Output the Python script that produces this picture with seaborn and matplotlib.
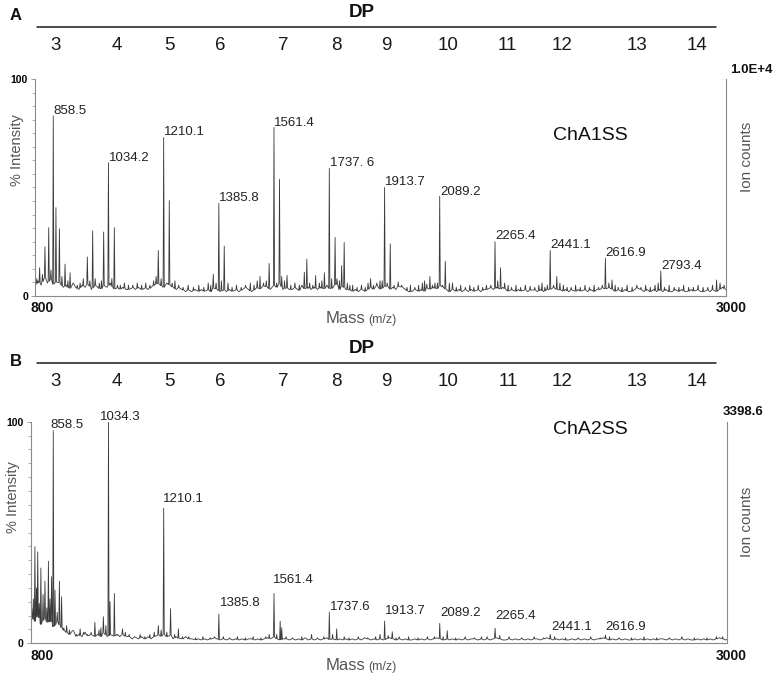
import numpy as np
import pandas as pd
import matplotlib
matplotlib.use("Agg")
import matplotlib.pyplot as plt
import matplotlib.transforms as mtrans
from matplotlib.lines import Line2D
import seaborn as sns

# ---------------- data ----------------
dp_labels = ["3", "4", "5", "6", "7", "8", "9", "10", "11", "12", "13", "14"]

# Panel A (ChA1SS) peaks: mass (m/z), % intensity
a_peak_mass = [815, 832, 844, 858.5, 867, 878, 896, 912, 954, 967, 984, 992, 1019,
               1034.2, 1053, 1193, 1210.1, 1228, 1246, 1368, 1385.8, 1403, 1517, 1546,
               1561.4, 1579, 1586, 1603, 1658, 1666, 1694, 1722, 1737.6, 1756, 1762,
               1777, 1785, 1803, 1869, 1899, 1913.7, 1931.7, 1957, 1968, 2048, 2058,
               2074, 2089.2, 2107, 2130, 2226, 2252, 2265.4, 2283, 2307, 2377, 2424,
               2441.1, 2462, 2483, 2616.9, 2638, 2658, 2717, 2793.4, 2971, 2995]
a_peak_int = [13, 22.7, 31.5, 83, 40.7, 31, 14.7, 10.7, 8, 18, 30, 8, 29.5,
              61.4, 31.5, 21, 73, 44, 7, 10, 42.7, 23, 9, 15,
              77.7, 53.8, 9, 9.5, 11, 17, 9.4, 10.7, 58.8, 27, 8,
              14, 24.7, 5, 8, 7, 50, 24, 6.5, 5, 5.5, 9,
              6, 46, 16, 6, 4, 5, 25, 13, 5, 4.5, 4,
              21, 9, 5, 17.4, 7.4, 4, 5, 11.5, 7.4, 5]
# Panel A minor (noise) peaks
a_minor_mass = [806, 824, 851, 886, 905, 922, 935, 944, 975, 1005, 1012, 1045, 1063,
                1072, 1085, 1098, 1112, 1126, 1140, 1153, 1166, 1178, 1186, 1202, 1237,
                1258, 1272, 1288, 1305, 1322, 1338, 1352, 1360, 1377, 1394, 1415, 1428,
                1442, 1457, 1471, 1486, 1498, 1508, 1528, 1537, 1570, 1595, 1615, 1628,
                1642, 1675, 1685, 1706, 1714, 1745, 1770, 1795, 1812, 1826, 1840, 1852,
                1861, 1878, 1889, 1906, 1922, 1944, 1985, 1996, 2010, 2022, 2034, 2041,
                2066, 2082, 2098, 2120, 2142, 2156, 2171, 2185, 2198, 2212, 2238, 2274,
                2296, 2318, 2332, 2347, 2362, 2392, 2405, 2415, 2432, 2452, 2472, 2495,
                2508, 2522, 2537, 2552, 2566, 2581, 2595, 2607, 2628, 2648, 2670, 2686,
                2702, 2730, 2745, 2760, 2775, 2785, 2805, 2820, 2836, 2851, 2866, 2882,
                2897, 2912, 2928, 2943, 2958, 2982]
a_minor_int = [8, 10, 12, 9, 7, 6, 5, 6, 7, 6, 7, 8, 5,
               5, 6, 5, 5, 6, 5, 6, 5, 7, 9, 8, 6,
               5, 4, 5, 4, 5, 4, 6, 5, 6, 7, 6, 4,
               5, 4, 5, 6, 5, 7, 6, 7, 6, 7, 5, 6,
               5, 6, 5, 6, 7, 8, 7, 6, 5, 4, 5, 4,
               6, 5, 6, 7, 6, 5, 4, 5, 4, 5, 6, 7,
               5, 6, 5, 6, 4, 5, 4, 5, 4, 5, 5, 7,
               6, 4, 5, 4, 5, 4, 5, 6, 5, 5, 6, 4,
               4, 5, 4, 5, 4, 5, 4, 5, 6, 5, 4, 5,
               4, 4, 5, 4, 5, 6, 4, 5, 4, 4, 5, 4,
               4, 5, 4, 4, 5, 6]
# Panel A baseline noise level, every 10 m/z from 800
a_base_start = 800
a_base = [4, 7, 5, 9, 6, 8, 5, 7, 6, 4,
          5, 3, 6, 4, 3, 5, 4, 6, 3, 5,
          4, 3, 5, 4, 6, 3, 4, 3, 4, 3,
          3, 4, 3, 4, 3, 4, 3, 4, 5, 6,
          5, 4, 6, 5, 4, 3, 4, 3, 2, 3,
          2, 3, 2, 3, 2, 3, 2, 4, 3, 2,
          3, 2, 3, 2, 3, 2, 3, 4, 3, 2,
          3, 4, 3, 5, 4, 3, 5, 4, 6, 3,
          4, 3, 3, 4, 2, 5, 3, 4, 3, 4,
          3, 4, 3, 5, 3, 4, 6, 3, 5, 3,
          3, 2, 3, 2, 3, 2, 3, 4, 3, 5,
          3, 4, 5, 3, 4, 3, 5, 4, 3, 2,
          2, 3, 2, 3, 2, 4, 3, 4, 3, 5,
          4, 3, 2, 3, 2, 3, 2, 3, 2, 3,
          2, 3, 2, 3, 3, 4, 3, 4, 3, 4,
          3, 2, 3, 2, 3, 2, 3, 2, 3, 3,
          2, 3, 2, 3, 3, 4, 3, 3, 2, 3,
          2, 3, 2, 3, 2, 3, 2, 3, 2, 3,
          3, 4, 3, 4, 3, 2, 3, 2, 3, 2,
          2, 3, 4, 3, 2, 3, 2, 3, 2, 3,
          2, 3, 2, 2, 3, 2, 3, 2, 2, 3,
          2, 3, 2, 2, 3, 2, 3, 2, 3, 4,
          3]
a_lbl_text = ["858.5", "1034.2", "1210.1", "1385.8", "1561.4", "1737. 6", "1913.7",
              "2089.2", "2265.4", "2441.1", "2616.9", "2793.4"]
a_lbl_mass = [858.5, 1034.2, 1210.1, 1385.8, 1561.4, 1737.6, 1913.7, 2089.2, 2265.4,
              2441.1, 2616.9, 2793.4]

# Panel B (ChA2SS)
b_peak_mass = [790, 800, 809, 819, 832, 843, 848, 858.5, 864, 878, 885, 901, 944, 991,
               1018, 1034.3, 1039, 1053, 1079, 1193, 1210.1, 1232, 1257, 1385.8, 1546,
               1561.4, 1581, 1586, 1681, 1737.6, 1761, 1785, 1899, 1913.7, 1938, 1960,
               2072, 2089.2, 2113, 2222, 2265.4, 2441.1, 2616.9]
b_peak_int = [15.8, 43.6, 41.3, 34, 28, 37, 20, 96, 24, 28, 21, 8, 6.5, 9.5,
              12, 100, 18.8, 22.5, 6.5, 8, 61, 15.6, 6.5, 13.2, 4,
              22.5, 10, 7, 4, 14, 6.5, 3, 4, 10, 5.2, 3,
              3, 9, 5.7, 3, 6.8, 4, 3.7]
b_minor_mass = [795, 805, 814, 826, 838, 853, 871, 892, 910, 921, 932, 955, 968, 979,
                1004, 1010, 1026, 1064, 1088, 1100, 1118, 1135, 1150, 1166, 1180, 1202,
                1220, 1245, 1270, 1290, 1312, 1335, 1358, 1372, 1400, 1420, 1445, 1470,
                1495, 1520, 1535, 1570, 1600, 1620, 1650, 1700, 1720, 1748, 1800, 1830,
                1860, 1885, 1925, 1950, 1990, 2020, 2050, 2100, 2140, 2170, 2200, 2240,
                2280, 2310, 2350, 2390, 2420, 2455, 2490, 2530, 2570, 2600, 2630, 2660,
                2700, 2740, 2780, 2820, 2860, 2900, 2940, 2970, 2990]
b_minor_int = [20, 25, 18, 22, 16, 30, 14, 7, 6, 5, 4, 5, 4, 5,
               6, 7, 8, 4, 5, 4, 3, 4, 3, 4, 5, 6,
               5, 4, 3, 3, 2.5, 3, 2.5, 3, 3, 2.5, 3, 2.5,
               3, 2.5, 3, 4, 3, 2.5, 3, 2.5, 3, 4, 2.5, 3,
               2.5, 3, 3.5, 2.5, 3, 2.5, 3, 3, 2.5, 3, 2.5, 3,
               3.5, 3, 2.5, 3, 2.5, 3, 2.5, 2.5, 3, 2.5, 3, 2.5,
               2.5, 3, 2.5, 2.5, 3, 2.5, 2.5, 3, 3]
b_base_start = 780
b_base = [8, 12,
          10, 14, 8, 12, 9, 11, 7, 10, 8, 6,
          5, 4, 6, 3, 4, 3, 5, 3, 4, 3,
          4, 3, 5, 3, 4, 3, 4, 3, 4, 3,
          3, 2, 3, 2, 3, 2, 3, 2, 3, 4,
          3, 4, 3, 4, 2, 3, 2, 2, 3, 2,
          2, 1.5, 2, 1.5, 2, 1.5, 2, 2.5, 2, 1.5,
          2, 1.5, 2, 1.5, 2, 1.5, 2, 1.5, 2, 2,
          1.5, 2, 1.5, 2, 2.5, 2, 3, 2, 1.5, 2,
          2, 1.5, 2, 1.5, 2, 1.5, 2.5, 1.5, 2, 1.5,
          2, 1.5, 2, 2.5, 1.5, 2, 1.5, 2, 1.5, 2,
          1.5, 2, 1.5, 2, 1.5, 2.5, 2, 1.5, 2, 1.5,
          2, 1.5, 2, 2.5, 2, 1.5, 2, 1.5, 2, 1.5,
          1.5, 2, 1.5, 2, 1.5, 2, 1.5, 2, 2.5, 2,
          1.5, 2, 1.5, 2, 1.5, 2, 1.5, 2, 1.5, 2,
          2, 1.5, 2, 1.5, 2, 1.5, 2, 2.5, 2, 1.5,
          1.5, 2, 1.5, 2, 1.5, 2, 1.5, 2, 1.5, 2,
          2, 1.5, 2, 2.5, 2, 1.5, 2, 1.5, 2, 1.5,
          1.5, 2, 1.5, 2, 1.5, 2, 1.5, 2, 1.5, 2,
          2, 2.5, 2, 1.5, 2, 1.5, 2, 1.5, 2, 1.5,
          1.5, 2, 1.5, 2, 1.5, 2, 1.5, 2, 1.5, 2,
          2, 1.5, 2, 1.5, 2, 1.5, 2, 1.5, 2, 1.5,
          1.5, 2, 1.5, 2, 1.5, 2, 1.5, 2, 2.5, 2,
          1.5, 2]
b_lbl_text = ["858.5", "1034.3", "1210.1", "1385.8", "1561.4", "1737.6", "1913.7",
              "2089.2", "2265.4", "2441.1", "2616.9"]

# ---------------- layout (positions / styles) ----------------
W, H = 777, 678
dp_pos = [867, 1060, 1230, 1391, 1591, 1761, 1920, 2117, 2306, 2478, 2717, 2908]
a_lbl_y = [85.4, 63.8, 75.4, 45, 79.9, 61.1, 52.5, 48, 27.6, 23.5, 19.7, 13.9]
b_lbl_x = [848, 1007, 1208, 1390, 1559, 1740, 1915, 2092, 2267, 2444, 2617]
b_lbl_y = [98.5, 102.3, 64.9, 18.3, 28.6, 16.6, 14.4, 13.6, 12.1, 7.5, 7.5]

sns.set_theme(style="white")
plt.rcParams["font.family"] = ["Liberation Sans", "DejaVu Sans"]

LINE = "#3a3a3a"
SPINE = "#8a8a8a"
LABEL = "#555555"

fig = plt.figure(figsize=(W / 100, H / 100), dpi=100)


def fx(x):
    return x / W


def fy(y):
    return 1 - y / H


def build_trace(base_start, base_vals, pk_m, pk_h, hw=1.8):
    bm = base_start + 10.0 * np.arange(len(base_vals))
    bv = np.asarray(base_vals, float)
    pk_m = np.asarray(pk_m, float)
    pk_h = np.asarray(pk_h, float)
    keep = np.array([np.all(np.abs(m - pk_m) > hw * 1.8) for m in bm])
    xs = list(bm[keep])
    ys = list(bv[keep])
    for m, h in zip(pk_m, pk_h):
        b = np.interp(m, bm, bv)
        xs += [m - hw, m, m + hw]
        ys += [b, max(h, b), b]
    order = np.argsort(xs)
    return pd.DataFrame({"mass": np.asarray(xs)[order],
                         "intensity": np.asarray(ys)[order]})


def panel(rect, xlim, df, name, name_y, dp_y, line_y, letter_y, ylab_xy,
          ion_y, top_label, top_label_xy, bottom_y, mass_y, letter):
    ax = fig.add_axes(rect)
    sns.lineplot(data=df, x="mass", y="intensity", ax=ax, estimator=None,
                 sort=False, color=LINE, linewidth=0.6)
    ax.set_xlim(*xlim)
    ax.set_ylim(0, 100)
    ax.set_xlabel("")
    ax.set_ylabel("")
    ax.spines["top"].set_visible(False)
    for s in ("left", "right", "bottom"):
        ax.spines[s].set_color(SPINE)
        ax.spines[s].set_linewidth(0.8)
    ax.set_xticks([])
    ax.set_yticks([0, 100])
    ax.set_yticklabels(["0", "100"], fontsize=7.5, fontweight="bold")
    ax.set_yticks(np.arange(0, 100.1, 6.25), minor=True)
    ax.tick_params(axis="y", which="major", length=3, width=0.6, color=SPINE,
                   pad=2, left=True, labelcolor="black")
    ax.tick_params(axis="y", which="minor", length=2, width=0.5, color=SPINE,
                   left=True)
    ax.patch.set_alpha(0)

    trans = mtrans.blended_transform_factory(ax.transData, fig.transFigure)
    for lab, pos in zip(dp_labels, dp_pos):
        ax.text(pos, fy(dp_y), lab, transform=trans, ha="center", va="center",
                fontsize=13.5, color="#1a1a1a")
    fig.add_artist(Line2D([fx(37), fx(716)], [fy(line_y), fy(line_y)],
                          transform=fig.transFigure, color="#1a1a1a", lw=1.1))
    fig.text(fx(362), fy(line_y - 14.5), "DP", ha="center", va="center",
             fontsize=13.5, fontweight="bold", color="#111111")
    fig.text(fx(16), fy(letter_y), letter, ha="center", va="center",
             fontsize=12, fontweight="bold", color="#111111")
    fig.text(fx(ylab_xy[0]), fy(ylab_xy[1]), "% Intensity", rotation=90,
             ha="center", va="center", fontsize=10.5, color=LABEL)
    fig.text(fx(747), fy(ion_y), "Ion counts", rotation=90, ha="center",
             va="center", fontsize=11, color=LABEL)
    fig.text(fx(top_label_xy[0]), fy(top_label_xy[1]), top_label, ha="left",
             va="center", fontsize=9.5, fontweight="bold", color="#111111")
    fig.text(fx(42), fy(bottom_y), "800", ha="center", va="center",
             fontsize=10, fontweight="bold", color="#111111")
    fig.text(fx(731), fy(bottom_y), "3000", ha="center", va="center",
             fontsize=10, fontweight="bold", color="#111111")
    fig.text(fx(365), fy(mass_y), "Mass", ha="right", va="baseline",
             fontsize=12, color=LABEL)
    fig.text(fx(368), fy(mass_y), "(m/z)", ha="left", va="baseline",
             fontsize=9, color=LABEL)
    fig.text(fx(590), fy(name_y), name, ha="center", va="center",
             fontsize=14, color="#111111")
    return ax


# Panel A
dfa = build_trace(a_base_start, a_base, a_peak_mass + a_minor_mass,
                  a_peak_int + a_minor_int)
axA = panel([fx(34.9), fy(296), fx(726) - fx(34.9), fy(79) - fy(296)],
            (800, 3001), dfa, "ChA1SS", 135, 45, 26.7, 15, (17.5, 150), 157,
            "1.0E+4", (730, 70), 308, 323, "A")
for t, m, y in zip(a_lbl_text, a_lbl_mass, a_lbl_y):
    axA.text(m + 1, y, t, ha="left", va="center", fontsize=9.5, color="#222222")

# Panel B
dfb = build_trace(b_base_start, b_base, b_peak_mass + b_minor_mass,
                  b_peak_int + b_minor_int)
axB = panel([fx(30.7), fy(643.3), fx(726.7) - fx(30.7), fy(421.7) - fy(643.3)],
            (786.6, 3003), dfb, "ChA2SS", 430, 381.7, 363.3, 361, (12.5, 497), 522,
            "3398.6", (723, 411.7), 656, 670, "B")
for t, m, y in zip(b_lbl_text, b_lbl_x, b_lbl_y):
    axB.text(m, y, t, ha="left", va="center", fontsize=9.5, color="#222222")

fig.savefig("out.png", dpi=100)
